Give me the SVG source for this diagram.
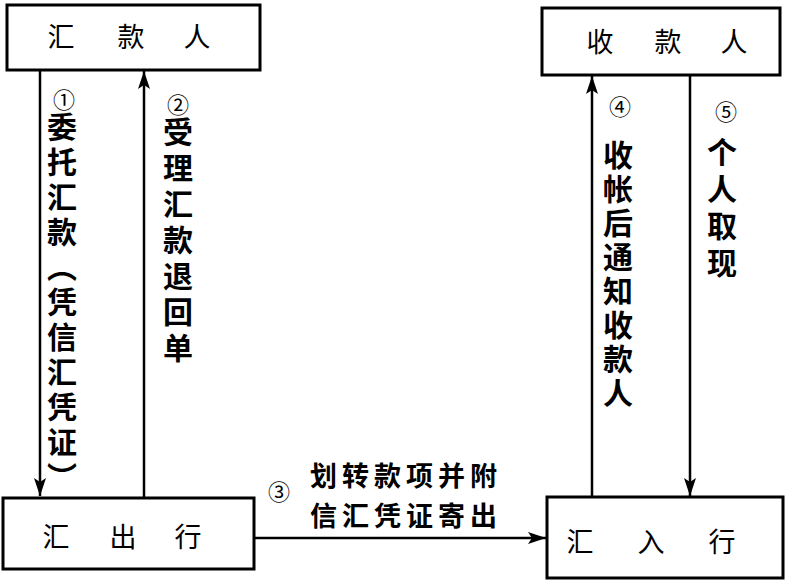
<svg xmlns="http://www.w3.org/2000/svg" width="785" height="583" viewBox="0 0 785 583">
<style>
.box{fill:#fff;stroke:#000;stroke-width:3}
.bt{font-family:"Noto Sans CJK SC","Noto Sans CJK JP",sans-serif;font-size:27px;fill:#000;text-anchor:middle;dominant-baseline:central}
.vt{font-family:"Noto Sans CJK SC","Noto Sans CJK JP",sans-serif;font-size:30px;font-weight:bold;fill:#000;writing-mode:vertical-rl}
.num{font-family:"Noto Sans CJK SC","Noto Sans CJK JP",sans-serif;font-size:22px;fill:#000;text-anchor:middle;dominant-baseline:central}
.ht{font-family:"Noto Sans CJK SC","Noto Sans CJK JP",sans-serif;font-size:27px;font-weight:bold;fill:#000;dominant-baseline:central}
.ln{stroke:#000;stroke-width:2.5;fill:none;marker-end:url(#ah)}
</style>
<defs>
<marker id="ah" viewBox="0 0 18 12" refX="18" refY="6" markerWidth="18" markerHeight="12" markerUnits="userSpaceOnUse" orient="auto">
<path d="M0,0 L18,6 L0,12 L4,6 Z" fill="#000"/>
</marker>
</defs>
<rect width="785" height="583" fill="#fff"/>
<g id="connectors">
<line class="ln" x1="40" y1="70" x2="40" y2="496"/>
<line class="ln" x1="144" y1="498" x2="144" y2="71"/>
<line class="ln" x1="254" y1="538" x2="546" y2="538"/>
<line class="ln" x1="592" y1="497" x2="592" y2="76"/>
<line class="ln" x1="690" y1="75" x2="690" y2="496"/>
</g>
<g id="labels">
<text class="num" x="64" y="98">①</text>
<text class="vt" x="62" y="112" letter-spacing="5">委托汇款（凭信汇凭证）</text>
<text class="num" x="178" y="103">②</text>
<text class="vt" x="178" y="117" letter-spacing="6">受理汇款退回单</text>
<text class="num" x="279" y="490">③</text>
<text class="ht" x="310" y="474" letter-spacing="5">划转款项并附</text>
<text class="ht" x="310" y="514" letter-spacing="5">信汇凭证寄出</text>
<text class="num" x="620" y="105">④</text>
<text class="vt" x="618" y="140" letter-spacing="4">收帐后通知收款人</text>
<text class="num" x="726" y="110">⑤</text>
<text class="vt" x="722" y="137" letter-spacing="7">个人取现</text>
</g>
<g id="n1">
<rect class="box" x="7" y="5" width="253" height="65"/>
<text class="bt" x="61" y="35">汇</text><text class="bt" x="131" y="35">款</text><text class="bt" x="197" y="35">人</text>
</g>
<g id="n2">
<rect class="box" x="542" y="8" width="238" height="67"/>
<text class="bt" x="600" y="40">收</text><text class="bt" x="668" y="40">款</text><text class="bt" x="734" y="40">人</text>
</g>
<g id="n3">
<rect class="box" x="3" y="498" width="251" height="71"/>
<text class="bt" x="56" y="535">汇</text><text class="bt" x="123" y="535">出</text><text class="bt" x="188" y="535">行</text>
</g>
<g id="n4">
<rect class="box" x="547" y="497" width="236" height="81"/>
<text class="bt" x="580" y="540">汇</text><text class="bt" x="651" y="540">入</text><text class="bt" x="722" y="540">行</text>
</g>
</svg>
